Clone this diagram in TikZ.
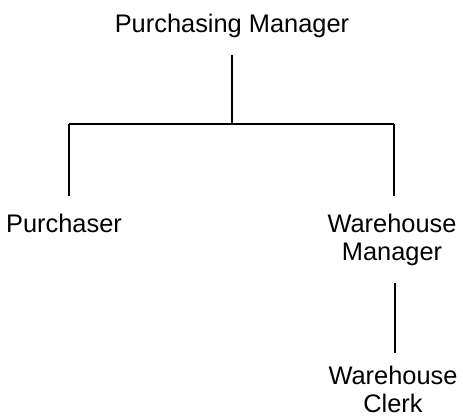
\documentclass[tikz,border=0pt]{standalone}
\usepackage{fontspec}
\setmainfont{Liberation Sans}
\usetikzlibrary{positioning}

\begin{document}
\begin{tikzpicture}[x=0.5pt, y=-0.5pt, line width=0.8pt,
    role/.style={inner sep=0pt, outer sep=9pt, align=center, font=\fontsize{12.7}{14}\selectfont}]
\useasboundingbox (0,0) rectangle (463,419);

% Top node
\node[role, anchor=base] (pm) at (232,32) {Purchasing Manager};

% Staff nodes (base is the last line)
\node[role, anchor=base] (pur) at (64,232) {Purchaser};
\node[role, anchor=base] (wm) at (392,260) {Warehouse\\Manager};
\node[role, anchor=base] (clerk) at (393,412) {Warehouse\\Clerk};

% Branch points
\coordinate (hub) at (232,124);
\coordinate (lk) at (69,124);
\coordinate (rk) at (394,124);
\coordinate (dn) at (395,0);

% Connections
\draw (pm) -- (hub);
\draw (lk) -- (rk);
\draw (lk) -- (lk |- pur.north);
\draw (rk) -- (rk |- wm.north);
\draw[shorten >=-2.5pt] (wm.south -| dn) -- (clerk.north -| dn);
\end{tikzpicture}
\end{document}
